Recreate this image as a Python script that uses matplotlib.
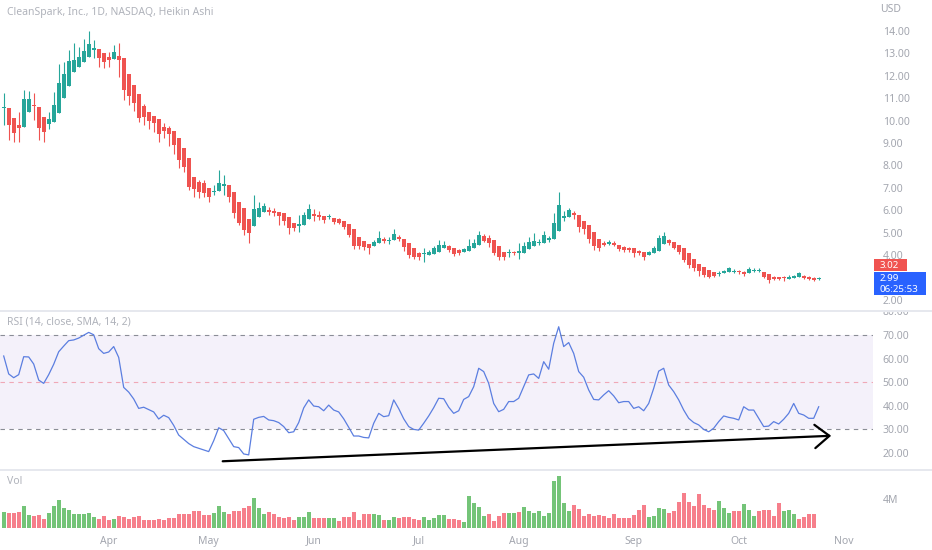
import numpy as np
import matplotlib.pyplot as plt
from matplotlib.patches import Rectangle
from matplotlib.lines import Line2D
from matplotlib.transforms import Bbox, TransformedBbox

plt.rcParams['font.family'] = ['Noto Sans', 'DejaVu Sans']

# Heikin Ashi candles, one per trading day (bar index 0 = 3 Mar 2022)
ha_open = [
    10.55, 10.58, 10.13, 9.80, 9.73, 10.37, 10.68, 10.62, 10.18, 9.83,
    9.95, 10.33, 11.00, 11.54, 12.16, 12.41, 12.63, 12.85, 13.14, 13.20,
    13.00, 12.82, 12.75, 12.90, 12.78, 12.08, 11.59, 11.17, 10.65, 10.37,
    10.21, 10.06, 9.73, 9.66, 9.54, 9.24, 8.76, 8.32, 7.50, 7.27,
    7.20, 6.98, 6.81, 6.87, 7.08, 7.13, 6.83, 6.38, 6.08, 5.59,
    5.29, 5.68, 5.91, 6.01, 5.98, 5.92, 5.86, 5.68, 5.42, 5.31,
    5.34, 5.59, 5.83, 5.80, 5.74, 5.68, 5.67, 5.59, 5.53, 5.38,
    5.15, 4.79, 4.64, 4.49, 4.40, 4.52, 4.70, 4.61, 4.67, 4.79,
    4.71, 4.55, 4.30, 4.10, 4.05, 4.00, 4.04, 4.15, 4.30, 4.40,
    4.30, 4.22, 4.15, 4.19, 4.30, 4.45, 4.85, 4.74, 4.67, 4.40,
    4.15, 4.08, 4.13, 4.10, 4.10, 4.25, 4.40, 4.52, 4.52, 4.67,
    4.70, 5.08, 5.64, 5.71, 5.86, 5.79, 5.53, 5.34, 5.04, 4.70,
    4.55, 4.49, 4.55, 4.45, 4.37, 4.33, 4.30, 4.18, 4.15, 4.00,
    4.07, 4.18, 4.49, 4.67, 4.59, 4.45, 4.30, 4.07, 3.81, 3.58,
    3.48, 3.33, 3.25, 3.16, 3.18, 3.25, 3.24, 3.29, 3.25, 3.18,
    3.27, 3.28, 3.25, 3.14, 3.03, 3.00, 2.98, 2.95, 2.98, 3.03,
    3.07, 3.03, 2.98, 2.93,
]
ha_close = [
    10.60, 9.80, 9.43, 9.68, 10.96, 10.96, 10.63, 9.68, 9.50, 10.06,
    10.70, 11.66, 12.07, 12.66, 12.71, 12.85, 13.11, 13.40, 13.26, 12.78,
    12.63, 12.69, 13.08, 12.69, 11.37, 11.10, 10.77, 10.10, 10.18, 9.98,
    9.88, 9.39, 9.54, 9.39, 8.91, 8.24, 7.94, 7.05, 6.93, 6.83,
    6.75, 6.60, 6.87, 7.23, 7.17, 6.60, 5.86, 5.41, 5.12, 4.97,
    6.04, 6.08, 6.19, 5.91, 5.86, 5.74, 5.53, 5.19, 5.19, 5.38,
    5.79, 6.04, 5.76, 5.70, 5.56, 5.74, 5.49, 5.44, 5.26, 4.89,
    4.40, 4.40, 4.37, 4.30, 4.59, 4.74, 4.64, 4.67, 4.94, 4.71,
    4.34, 4.00, 3.92, 3.90, 4.08, 4.15, 4.30, 4.45, 4.45, 4.22,
    4.04, 4.10, 4.25, 4.40, 4.55, 4.89, 4.64, 4.55, 4.10, 3.92,
    3.90, 4.12, 4.11, 4.18, 4.40, 4.59, 4.62, 4.59, 4.89, 4.77,
    5.44, 6.23, 5.74, 6.00, 5.77, 5.26, 5.15, 4.70, 4.40, 4.30,
    4.45, 4.59, 4.45, 4.27, 4.22, 4.22, 4.07, 4.07, 3.92, 4.12,
    4.33, 4.77, 4.86, 4.52, 4.33, 4.15, 3.78, 3.55, 3.41, 3.29,
    3.11, 3.03, 3.08, 3.19, 3.29, 3.41, 3.29, 3.22, 3.13, 3.38,
    3.35, 3.34, 3.03, 2.88, 2.93, 2.95, 2.96, 3.03, 3.07, 3.18,
    2.98, 2.95, 2.88, 2.99,
]
ha_high = [
    11.22, 10.58, 10.13, 10.37, 11.37, 11.33, 11.22, 10.62, 10.18, 10.37,
    11.29, 12.51, 12.63, 13.15, 13.45, 13.30, 13.64, 14.00, 13.60, 13.20,
    13.00, 13.08, 13.38, 13.45, 12.78, 12.08, 11.59, 11.17, 10.72, 10.37,
    10.21, 10.06, 9.88, 9.75, 9.54, 9.24, 8.76, 8.32, 7.50, 7.35,
    7.35, 6.98, 7.11, 7.79, 7.57, 7.13, 6.83, 6.38, 6.08, 5.59,
    6.68, 6.38, 6.31, 6.15, 6.12, 5.92, 5.86, 5.68, 5.42, 5.79,
    5.90, 6.26, 6.05, 5.98, 5.74, 5.85, 5.67, 5.65, 5.53, 5.38,
    5.15, 4.79, 4.64, 4.49, 4.65, 5.08, 4.80, 4.80, 5.16, 4.90,
    4.71, 4.55, 4.30, 4.12, 4.30, 4.22, 4.40, 4.67, 4.62, 4.45,
    4.30, 4.25, 4.32, 4.70, 4.72, 5.08, 4.95, 4.90, 4.67, 4.40,
    4.15, 4.25, 4.20, 4.55, 4.59, 4.79, 5.00, 4.70, 5.05, 4.85,
    5.89, 6.83, 5.98, 6.12, 5.98, 5.79, 5.53, 5.34, 5.04, 4.70,
    4.62, 4.68, 4.62, 4.45, 4.40, 4.36, 4.30, 4.22, 4.15, 4.18,
    4.40, 4.89, 5.01, 4.72, 4.59, 4.45, 4.30, 4.07, 3.81, 3.58,
    3.48, 3.33, 3.25, 3.30, 3.35, 3.45, 3.36, 3.33, 3.28, 3.45,
    3.42, 3.42, 3.25, 3.14, 3.08, 3.03, 3.05, 3.10, 3.12, 3.22,
    3.10, 3.05, 3.00, 3.02,
]
ha_low = [
    9.80, 9.13, 9.04, 9.03, 9.73, 10.37, 10.03, 9.13, 9.03, 9.62,
    9.95, 10.33, 11.00, 11.54, 12.16, 12.41, 12.63, 12.85, 12.78, 12.41,
    12.33, 12.41, 12.75, 11.96, 10.92, 10.70, 10.43, 9.92, 9.80, 9.64,
    9.50, 9.06, 9.23, 8.88, 8.50, 7.87, 7.72, 6.90, 6.60, 6.55,
    6.60, 6.38, 6.67, 6.87, 6.68, 6.38, 5.64, 5.34, 4.89, 4.52,
    5.29, 5.68, 5.91, 5.79, 5.75, 5.34, 5.34, 4.94, 5.05, 5.04,
    5.34, 5.59, 5.50, 5.55, 5.41, 5.60, 5.40, 5.38, 5.15, 4.82,
    4.25, 4.25, 4.21, 4.04, 4.40, 4.52, 4.55, 4.50, 4.67, 4.62,
    4.19, 3.85, 3.80, 3.78, 3.70, 4.00, 4.04, 4.15, 4.30, 4.15,
    3.95, 4.00, 4.12, 4.19, 4.30, 4.45, 4.60, 4.35, 4.00, 3.78,
    3.78, 3.90, 4.02, 3.83, 4.10, 4.25, 4.40, 4.45, 4.52, 4.60,
    4.70, 5.08, 5.50, 5.71, 5.60, 5.04, 4.95, 4.55, 4.22, 4.20,
    4.38, 4.45, 4.38, 4.18, 4.12, 4.12, 3.92, 3.98, 3.78, 4.00,
    4.07, 4.18, 4.49, 4.45, 4.25, 4.05, 3.70, 3.40, 3.30, 3.08,
    3.00, 2.98, 3.00, 3.05, 3.18, 3.25, 3.20, 3.15, 3.08, 3.18,
    3.22, 3.25, 2.98, 2.77, 2.88, 2.90, 2.85, 2.95, 2.98, 3.03,
    2.94, 2.90, 2.83, 2.90,
]

# RSI (14, close, SMA, 14, 2)
rsi = [
    61.1, 53.5, 51.9, 53.2, 60.8, 60.7, 57.7, 50.9, 49.5, 53.2,
    57.6, 62.9, 65.3, 67.6, 67.9, 68.7, 69.9, 71.1, 70.1, 64.2,
    62.2, 62.8, 65.1, 60.5, 47.8, 45.8, 42.9, 38.9, 39.4, 38.4,
    37.4, 34.4, 36.0, 35.0, 31.7, 27.6, 25.8, 24.0, 22.7, 22.0,
    21.3, 20.6, 25.2, 30.7, 29.5, 26.1, 22.7, 22.3, 19.6, 19.2,
    34.3, 35.1, 35.5, 34.0, 33.7, 32.9, 31.2, 28.6, 29.0, 32.9,
    39.1, 42.5, 39.9, 39.6, 37.9, 40.3, 38.2, 37.4, 34.5, 30.9,
    27.2, 27.2, 26.6, 26.4, 32.6, 36.8, 35.4, 35.8, 42.5, 38.8,
    34.5, 31.2, 30.0, 29.7, 32.6, 35.7, 39.2, 43.2, 43.0, 39.4,
    36.8, 37.9, 42.7, 43.9, 48.1, 55.9, 54.5, 49.5, 41.0, 37.5,
    38.5, 41.8, 41.8, 43.2, 48.1, 53.1, 53.5, 51.6, 58.7, 55.5,
    66.5, 73.5, 65.1, 66.8, 62.2, 54.5, 52.1, 46.7, 42.7, 42.5,
    44.6, 46.4, 44.2, 41.3, 41.8, 41.8, 38.9, 39.6, 37.9, 41.0,
    47.4, 54.7, 55.9, 48.8, 46.0, 42.5, 38.2, 34.7, 32.9, 31.9,
    30.0, 29.0, 30.5, 33.3, 35.7, 35.1, 34.7, 34.0, 39.6, 38.2,
    38.2, 34.7, 31.2, 31.4, 33.3, 32.3, 34.3, 36.8, 41.0, 36.8,
    36.1, 34.7, 34.7, 39.6,
]

# volume in millions, and whether the day closed up (1) or down (0)
vol = [
    2.27, 2.14, 2.14, 2.23, 3.05, 1.82, 1.73, 1.82, 1.23, 2.05,
    3.05, 3.86, 2.73, 2.50, 1.95, 1.95, 1.95, 2.05, 1.59, 1.23,
    1.68, 1.14, 1.23, 1.73, 1.59, 1.23, 1.50, 1.68, 1.14, 1.14,
    1.14, 1.23, 1.14, 1.36, 1.45, 1.91, 1.91, 1.91, 2.36, 2.36,
    1.82, 1.82, 2.05, 3.05, 2.18, 1.95, 2.36, 2.36, 2.73, 3.09,
    4.09, 2.82, 1.95, 2.18, 1.95, 1.50, 1.36, 1.50, 1.14, 1.50,
    1.59, 2.27, 1.36, 1.36, 1.36, 1.36, 1.36, 1.00, 1.59, 1.59,
    2.27, 1.14, 1.95, 1.95, 1.95, 1.82, 1.14, 1.14, 1.59, 1.36,
    1.50, 1.59, 1.23, 1.14, 1.50, 1.14, 1.36, 1.82, 1.82, 1.23,
    1.27, 1.14, 0.91, 4.41, 3.41, 2.86, 1.68, 1.91, 1.05, 1.73,
    2.05, 2.05, 2.05, 2.27, 2.95, 2.36, 2.14, 2.36, 1.68, 2.14,
    6.50, 7.14, 3.41, 2.36, 3.18, 2.64, 1.68, 1.95, 1.73, 1.82,
    1.68, 1.45, 1.95, 1.45, 1.45, 1.45, 1.82, 2.50, 3.18, 1.59,
    1.68, 2.73, 2.59, 2.14, 2.36, 3.64, 4.77, 3.64, 3.05, 4.64,
    3.18, 2.73, 2.50, 3.77, 2.82, 2.14, 2.36, 2.36, 3.32, 2.50,
    1.68, 2.41, 2.50, 2.50, 1.68, 3.50, 2.41, 2.50, 1.91, 1.23,
    1.59, 1.95, 1.91, 0.05,
]
vol_up = [
    1, 0, 0, 0, 1, 1, 0, 0, 0, 1,
    1, 1, 1, 1, 1, 1, 1, 1, 1, 0,
    0, 0, 1, 0, 0, 0, 0, 0, 0, 0,
    0, 0, 0, 0, 0, 0, 0, 0, 0, 0,
    0, 0, 1, 1, 1, 0, 0, 0, 0, 0,
    1, 1, 1, 0, 0, 0, 0, 0, 0, 1,
    1, 1, 0, 0, 0, 1, 1, 0, 0, 0,
    0, 0, 0, 0, 1, 1, 0, 1, 1, 0,
    0, 0, 0, 0, 1, 1, 1, 1, 1, 0,
    0, 0, 1, 1, 1, 1, 1, 0, 0, 0,
    0, 1, 1, 0, 1, 1, 1, 1, 1, 1,
    1, 1, 1, 1, 0, 0, 0, 0, 0, 0,
    0, 0, 0, 0, 0, 0, 0, 0, 0, 1,
    1, 1, 1, 0, 0, 0, 0, 0, 0, 0,
    0, 0, 0, 1, 1, 1, 0, 0, 1, 1,
    1, 0, 0, 0, 0, 0, 1, 1, 1, 0,
    0, 0, 0, 1,
]

month_labels = ['Apr', 'May', 'Jun', 'Jul', 'Aug', 'Sep', 'Oct', 'Nov']
month_bar = [21, 41, 62, 83, 103, 126, 147, 168]

price_ticks = [2, 4, 5, 6, 7, 8, 9, 10, 11, 12, 13, 14]
rsi_ticks = [20, 30, 40, 50, 60, 70, 80]

# hand-drawn trend arrow on the RSI pane (bar index, RSI value)
trend_x = [43.8, 165.5]
trend_y = [16.5, 27.3]

last_close = '3.02'
ha_last = '2.99'
countdown = '06:25:53'

GREEN = '#26a69a'
RED = '#ef5350'
LABEL = '#a3a6af'

W, H = 932, 550
fig = plt.figure(figsize=(W / 100, H / 100), dpi=100)


def box(x0, y0, x1, y1):
    return [x0 / W, 1 - y1 / H, (x1 - x0) / W, (y1 - y0) / H]


PLOT_R = 873
ax_p = fig.add_axes(box(0, 0, PLOT_R, 310))
ax_r = fig.add_axes(box(0, 311, PLOT_R, 468))
ax_v = fig.add_axes(box(0, 471, PLOT_R, 530))

x = np.arange(len(ha_open))
o = np.array(ha_open)
c = np.array(ha_close)
colors = np.where(c >= o, GREEN, RED)

for ax in (ax_p, ax_r, ax_v):
    ax.set_xlim(-0.74, (PLOT_R - 3.7) / 5)
    for s in ax.spines.values():
        s.set_visible(False)
    ax.yaxis.tick_right()
    ax.tick_params(axis='y', length=0, pad=7, labelsize=7.5, labelcolor=LABEL)
    ax.tick_params(axis='x', length=0)
    ax.set_facecolor('none')

# price pane
ax_p.vlines(x, ha_low, ha_high, colors=colors, lw=0.8)
ax_p.bar(x, np.maximum(np.abs(c - o), 0.045), bottom=np.minimum(o, c),
         width=0.8, color=colors, lw=0)
ax_p.set_ylim(14 - 279 / 22.4, 14 + 31 / 22.4)
ax_p.set_yticks(price_ticks)
ax_p.set_yticklabels([f'{v:.2f}' for v in price_ticks])
ax_p.set_xticks([])

# RSI pane
ax_r.axhspan(30, 70, color='#7e57c2', alpha=0.08, lw=0)
ax_r.axhline(70, color='#8a8d96', lw=0.8, ls=(0, (4, 4)))
ax_r.axhline(30, color='#8a8d96', lw=0.8, ls=(0, (4, 4)))
ax_r.axhline(50, color='#f0a8b6', lw=0.8, ls=(0, (4, 4)))
ax_r.plot(x, rsi, color='#5b7ee0', lw=0.9)
ax_r.annotate('', xy=(trend_x[1], trend_y[1]), xytext=(trend_x[0], trend_y[0]),
              arrowprops=dict(arrowstyle='->,head_length=0.75,head_width=0.6',
                              color='black', lw=1.6, mutation_scale=14,
                              shrinkA=0, shrinkB=0),
              annotation_clip=False)
ax_r.set_ylim(70 - 133 / 2.36, 70 + 24 / 2.36)
ax_r.set_yticks(rsi_ticks)
ax_r.set_yticklabels([f'{v:.2f}' for v in rsi_ticks])
ax_r.set_xticks([])
# the top scale label is cut by the pane border, as on the original
pane_clip = TransformedBbox(Bbox([[0, 0], [1, 1 - 311.5 / H]]), fig.transFigure)
for lab in ax_r.get_yticklabels():
    lab.set_clip_box(pane_clip)
    lab.set_clip_on(True)

# volume pane
vcol = ['#74c478' if u else '#f67f8b' for u in vol_up]
ax_v.bar(x, vol, width=0.78, color=vcol, lw=0)
ax_v.set_ylim(-0.23, 7.82)
ax_v.set_yticks([4])
ax_v.set_yticklabels(['4M'])
ax_v.set_xticks(month_bar)
ax_v.set_xticklabels(month_labels)
ax_v.tick_params(axis='x', pad=4, labelsize=7.5, labelcolor=LABEL)

# pane separators
for yy in (310.5, 469.5):
    fig.add_artist(Line2D([0, 1], [1 - yy / H] * 2, transform=fig.transFigure,
                          color='#e6e8ee', lw=1.4))

# headings
fig.text(7 / W, 1 - 13 / H, 'CleanSpark, Inc., 1D, NASDAQ, Heikin Ashi',
         ha='left', va='center', fontsize=7.5, color='#b0b3bb', fontweight='semibold')
fig.text(7 / W, 1 - 322 / H, 'RSI (14, close, SMA, 14, 2)',
         ha='left', va='center', fontsize=7.5, color='#b0b3bb')
fig.text(7 / W, 1 - 482 / H, 'Vol', ha='left', va='center', fontsize=7.5,
         color='#b0b3bb')
fig.text(880 / W, 1 - 10 / H, 'USD', ha='left', va='center', fontsize=7.5,
         color=LABEL)

# last price labels on the scale
fig.add_artist(Rectangle((874 / W, 1 - 271 / H), 33 / W, 12 / H,
                         transform=fig.transFigure, color='#f05350', lw=0))
fig.text(880 / W, 1 - 265.5 / H, last_close, ha='left', va='center',
         fontsize=7, color='white')
fig.add_artist(Rectangle((874 / W, 1 - 295 / H), 52 / W, 23 / H,
                         transform=fig.transFigure, color='#2962ff', lw=0))
fig.text(880 / W, 1 - 278.5 / H, ha_last, ha='left', va='center',
         fontsize=7, color='white')
fig.text(880 / W, 1 - 289.5 / H, countdown, ha='left', va='center',
         fontsize=7, color='white')

fig.savefig('out.png', dpi=100, facecolor='white')
